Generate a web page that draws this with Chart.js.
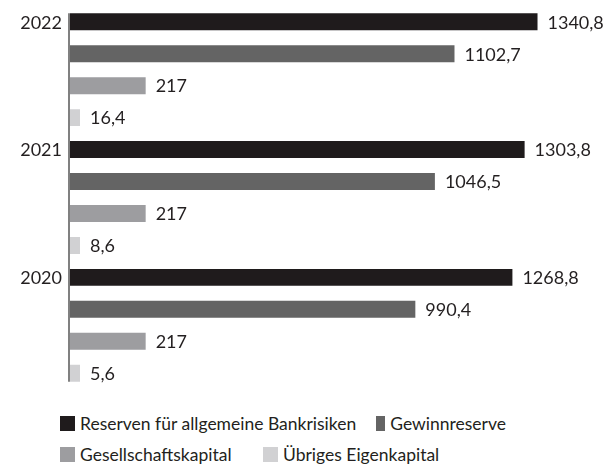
<!DOCTYPE html>
<html>
<head>
  <meta charset="UTF-8" />
  <title>Eigenkapital</title>
  <script src="https://cdn.jsdelivr.net/npm/chart.js"></script>
  <style>
    body {
      margin: 0;
      background: #ffffff;
      font-family: Lato, sans-serif;
      color: #231f20;
      overflow: hidden;
    }
    #wrap {
      width: 611px;
      height: 421px;
      margin-top: -13px;
      position: relative;
    }
    #legend {
      display: flex;
      flex-wrap: wrap;
      row-gap: 12px;
      width: 500px;
      margin: 6px 0 0 60px;
      font-size: 17.5px;
    }
    #legend .item {
      display: flex;
      align-items: center;
      height: 19px;
    }
    #legend .box {
      width: 15px;
      height: 15px;
      margin-right: 5px;
    }
  </style>
</head>
<body>
  <div id="wrap"><canvas id="chart"></canvas></div>
  <div id="legend"></div>

  <script>
    const years = ['2022', '2021', '2020'];
    const reserven = [1340.8, 1303.8, 1268.8];
    const gewinnreserve = [1102.7, 1046.5, 990.4];
    const gesellschaftskapital = [217, 217, 217];
    const uebriges = [16.4, 8.6, 5.6];

    const seriesNames = ['Reserven für allgemeine Bankrisiken', 'Gewinnreserve', 'Gesellschaftskapital', 'Übriges Eigenkapital'];
    const seriesColors = ['#1f1b1c', '#646464', '#9d9da0', '#d1d1d3'];
    const seriesData = [reserven, gewinnreserve, gesellschaftskapital, uebriges];
    // Breite der Legendeneinträge (Fluss wie im Original)
    const legendWidths = [316, 130, 203, 190];

    const fmt = v => String(v).replace('.', ',');

    // Werte rechts neben den Balken + Achsenlinie vom ersten bis zum letzten Balken
    const valueLabels = {
      id: 'valueLabels',
      afterDatasetsDraw(chart) {
        const ctx = chart.ctx;
        const metas = chart.data.datasets.map((ds, i) => chart.getDatasetMeta(i));
        const firstBar = metas[0].data[0];
        const lastBar = metas[metas.length - 1].data[years.length - 1];

        ctx.save();
        ctx.strokeStyle = '#808080';
        ctx.lineWidth = 2;
        ctx.beginPath();
        ctx.moveTo(chart.chartArea.left - 1, firstBar.y - firstBar.height / 2);
        ctx.lineTo(chart.chartArea.left - 1, lastBar.y + lastBar.height / 2);
        ctx.stroke();

        ctx.font = '18px Lato, sans-serif';
        ctx.fillStyle = '#231f20';
        ctx.textBaseline = 'middle';
        ctx.textAlign = 'left';
        chart.data.datasets.forEach((ds, i) => {
          metas[i].data.forEach((bar, j) => {
            ctx.fillText(fmt(ds.data[j]), bar.x + 10, bar.y + 1);
          });
        });
        ctx.restore();
      }
    };

    const ctx = document.getElementById('chart').getContext('2d');
    const chart = new Chart(ctx, {
      type: 'bar',
      data: {
        labels: years,
        datasets: seriesNames.map((name, i) => ({
          label: name,
          data: seriesData[i],
          backgroundColor: seriesColors[i],
          barPercentage: 17 / 32,
          categoryPercentage: 1,
          minBarLength: i === 3 ? 10 : 0
        }))
      },
      options: {
        indexAxis: 'y',
        responsive: true,
        maintainAspectRatio: false,
        animation: false,
        layout: {
          padding: { top: 0, bottom: 0, left: 0, right: 11 }
        },
        scales: {
          x: {
            display: false,
            min: 0,
            max: 1520
          },
          y: {
            afterFit: s => { s.width = 70; },
            grid: { display: false, drawTicks: false },
            border: { display: false },
            ticks: {
              color: '#231f20',
              font: { family: 'Lato, sans-serif', size: 18 },
              padding: 8,
              labelOffset: -47
            }
          }
        },
        plugins: {
          legend: { display: false },
          tooltip: { enabled: false }
        }
      },
      plugins: [valueLabels]
    });

    // Legende
    const legend = document.getElementById('legend');
    seriesNames.forEach((name, i) => {
      const item = document.createElement('div');
      item.className = 'item';
      item.style.width = legendWidths[i] + 'px';
      const box = document.createElement('span');
      box.className = 'box';
      box.style.background = seriesColors[i];
      const txt = document.createElement('span');
      txt.textContent = name;
      item.appendChild(box);
      item.appendChild(txt);
      legend.appendChild(item);
    });
  </script>
</body>
</html>
